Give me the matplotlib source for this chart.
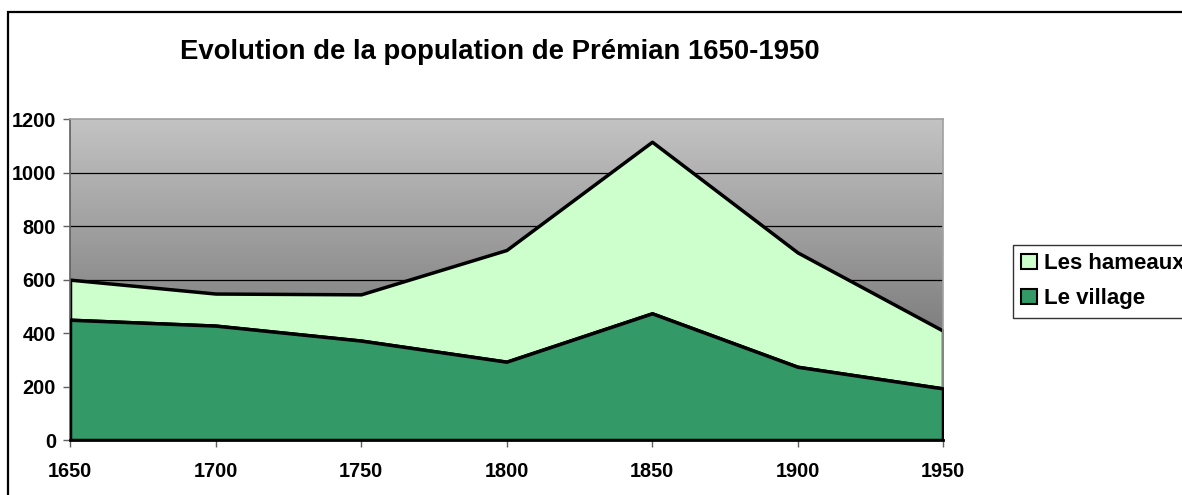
import numpy as np
import matplotlib
matplotlib.use("Agg")
import matplotlib.pyplot as plt
from matplotlib.patches import Patch, Rectangle

years = [1650, 1700, 1750, 1800, 1850, 1900, 1950]
village = [450, 428, 372, 293, 474, 274, 193]
hameaux = [150, 120, 173, 418, 642, 428, 216]
yticks = [0, 200, 400, 600, 800, 1000, 1200]
title = "Evolution de la population de Prémian 1650-1950"
labels = ["Les hameaux", "Le village"]
c_village = "#339966"
c_hameaux = "#CCFFCC"

plt.rcParams['font.family'] = ['Liberation Sans', 'DejaVu Sans']

W, H = 1182, 495
fig = plt.figure(figsize=(W / 100, H / 100), dpi=100)
fig.patch.set_facecolor("white")

L, R, T, B = 70, 943, 119.3, 440
ax = fig.add_axes([L / W, 1 - B / H, (R - L) / W, (B - T) / H])

# gradient background
grad = np.linspace(0, 1, 256).reshape(-1, 1)
top_c = np.array([0.765, 0.765, 0.765])
bot_c = np.array([0.36, 0.36, 0.36])
img = top_c[None, None, :] * (1 - grad[:, :, None]) + bot_c[None, None, :] * grad[:, :, None]
ax.imshow(img, extent=[0, 1, 0, 1], transform=ax.transAxes, aspect='auto', zorder=0)

ax.set_xlim(1650, 1950)
ax.set_ylim(0, 1200)

for yv in yticks[1:-1]:
    ax.axhline(yv, color="black", lw=0.9, zorder=1)

v = np.array(village)
tot = v + np.array(hameaux)
ax.fill_between(years, 0, v, facecolor=c_village, edgecolor="black", lw=2.5, zorder=3)
ax.fill_between(years, v, tot, facecolor=c_hameaux, edgecolor="black", lw=2.5, zorder=2)

ax.set_xticks(years)
ax.set_yticks(yticks)
ax.tick_params(axis='both', labelsize=14.3, width=1, length=5, color="#606060")
ax.tick_params(axis='x', pad=11)
ax.tick_params(axis='y', pad=5)
for lab in ax.get_xticklabels() + ax.get_yticklabels():
    lab.set_fontweight("bold")

for s in ["top", "right"]:
    ax.spines[s].set_color("#a0a0a0")
    ax.spines[s].set_linewidth(1.2)
ax.spines["left"].set_color("#606060")
ax.spines["left"].set_linewidth(1.2)
ax.spines["bottom"].set_color("black")
ax.spines["bottom"].set_linewidth(2)

fig.text(500 / W, 1 - 52 / H, title, ha="center", va="center", fontsize=19.8, fontweight="bold")

# outer frame
fig.add_artist(Rectangle((8 / W, -0.1), 1.2, 1 - 12 / H + 0.1, transform=fig.transFigure,
                         fill=False, edgecolor="black", lw=1.6))

handles = [Patch(facecolor=c_hameaux, edgecolor="black", lw=1.5),
           Patch(facecolor=c_village, edgecolor="black", lw=1.5)]
leg = fig.legend(handles, labels, loc="upper left", bbox_to_anchor=(1013 / W, 1 - 245 / H),
                 prop={'weight': 'bold', 'size': 16}, frameon=True, fancybox=False,
                 handlelength=0.7, handleheight=0.7, handletextpad=0.3,
                 borderpad=0.38, labelspacing=0.62, borderaxespad=0)
leg.get_frame().set_edgecolor("black")
leg.get_frame().set_linewidth(1)

fig.savefig("out.png", dpi=100)
